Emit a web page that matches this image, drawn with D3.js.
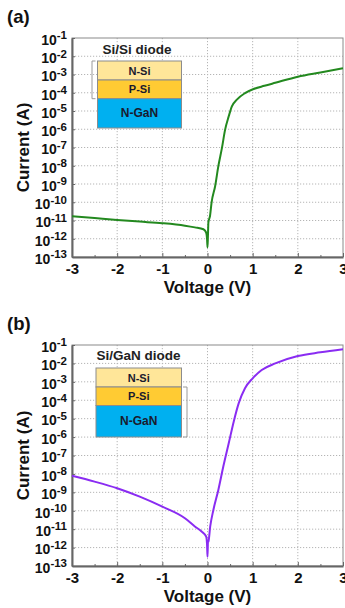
<!DOCTYPE html>
<html>
<head>
<meta charset="utf-8">
<script src="https://cdn.jsdelivr.net/npm/d3@7"></script>
<style>
  body { margin: 0; background: #fff; }
  svg { display: block; font-family: "Liberation Sans", Arial, sans-serif; font-weight: bold; }
</style>
</head>
<body>
<svg width="345" height="608"></svg>
<script>
// DATA
// (a) Si/Si diode
const voltageA = [-3, -2.5, -2, -1.5, -1, -0.5, -0.28, -0.09, -0.03, -0.01, 0, 0.01, 0.02, 0.056, 0.09,
  0.17, 0.24, 0.32, 0.39, 0.47, 0.54, 0.65, 0.83, 1.02, 1.26, 1.5, 2, 2.5, 3];
const currentA = [1.7e-11, 1.35e-11, 1.07e-11, 8.7e-12, 7.1e-12, 5.2e-12, 4.2e-12, 3.3e-12, 2.2e-12, 1e-12,
  3.4e-13, 1.5e-12, 7.8e-12, 1.8e-11, 9.5e-11, 7.8e-10, 9.5e-9, 9.5e-8, 9.5e-7, 5.1e-6, 1.8e-5, 4.2e-5,
  9.5e-5, 1.6e-4, 2.4e-4, 3.5e-4, 7.6e-4, 1.3e-3, 2.2e-3];

// (b) Si/GaN diode
const voltageB = [-3, -2.5, -2, -1.5, -1, -0.5, -0.28, -0.13, -0.03, -0.01, 0, 0.01, 0.02, 0.06, 0.13,
  0.24, 0.35, 0.47, 0.58, 0.69, 0.83, 1.0, 1.2, 1.5, 2, 2.5, 3];
const currentB = [7.9e-9, 3.8e-9, 1.66e-9, 5.8e-10, 1.66e-10, 3.9e-11, 1.4e-11, 7.4e-12, 4e-12, 1.5e-12,
  3.2e-13, 2e-12, 2.1e-12, 1.4e-11, 1.1e-10, 1.35e-9, 2.5e-8, 4.6e-7, 6.9e-6, 6.8e-5, 4.5e-4, 1.55e-3,
  4.4e-3, 1e-2, 2.5e-2, 4e-2, 5.9e-2];

// axes
const xTicks = [-3, -2, -1, 0, 1, 2, 3];
const xMinorTicks = [-2.5, -1.5, -0.5, 0.5, 1.5, 2.5];
const yTicks = [1e-13, 1e-12, 1e-11, 1e-10, 1e-9, 1e-8, 1e-7, 1e-6, 1e-5, 1e-4, 1e-3, 1e-2, 1e-1];

// inset layers (top to bottom)
const layerNames = ["N-Si", "P-Si", "N-GaN"];
const layerColors = ["#ffe699", "#ffcb33", "#00b0f0"];

// SETUP
const svg = d3.select("svg");
const left = 72, right = 343;

const x = d3.scaleLinear().domain([-3, 3]).range([left, right]);

function drawPanel(p) {
  const y = d3.scaleLog().domain([1e-13, 1e-1]).range([p.bottom, p.top]);
  const g = svg.append("g");

  // panel letter
  g.append("text")
    .attr("x", 7).attr("y", p.letterY)
    .attr("font-size", 18.5)
    .attr("fill", "#111")
    .text(p.letter);

  // grid
  g.append("g")
    .selectAll("line")
    .data(yTicks.slice(1, -1))
    .enter()
    .append("line")
    .attr("x1", left).attr("x2", right)
    .attr("y1", (d) => y(d)).attr("y2", (d) => y(d))
    .attr("stroke", "#b5b5b5")
    .attr("stroke-dasharray", "1.2,1.8");

  g.append("g")
    .selectAll("line")
    .data(xTicks.slice(1, -1))
    .enter()
    .append("line")
    .attr("x1", (d) => x(d)).attr("x2", (d) => x(d))
    .attr("y1", p.top).attr("y2", p.bottom)
    .attr("stroke", "#b5b5b5")
    .attr("stroke-dasharray", "1.2,1.8");

  // frame
  g.append("rect")
    .attr("x", left).attr("y", p.top)
    .attr("width", right - left).attr("height", p.bottom - p.top)
    .attr("fill", "none")
    .attr("stroke", "#8a8a8a");

  // x axis
  const xAxis = d3.axisBottom(x).tickValues(xTicks).tickSizeInner(-4).tickSizeOuter(0).tickPadding(6)
    .tickFormat(d3.format("d"));
  const gx = g.append("g")
    .attr("transform", `translate(0,${p.bottom})`)
    .style("color", "#666")
    .call(xAxis);
  gx.select(".domain").attr("stroke-width", 2);
  gx.selectAll(".tick text")
    .attr("fill", "#111")
    .attr("font-size", 15)
    .attr("font-family", "Liberation Sans, Arial, sans-serif")
    .attr("font-weight", "bold")
    .text((d) => (d < 0 ? "-" + Math.abs(d) : d));

  g.append("g")
    .attr("transform", `translate(0,${p.bottom})`)
    .style("color", "#666")
    .call(d3.axisBottom(x).tickValues(xMinorTicks).tickSizeInner(-2).tickSizeOuter(0).tickFormat(""))
    .select(".domain").remove();

  // y axis
  const yAxis = d3.axisLeft(y).tickValues(yTicks).tickSizeInner(-3).tickSizeOuter(0).tickPadding(5).tickFormat("");
  const gy = g.append("g")
    .attr("transform", `translate(${left},0)`)
    .style("color", "#666")
    .call(yAxis);
  gy.select(".domain").attr("stroke-width", 2);
  gy.selectAll(".tick text")
    .attr("fill", "#111")
    .attr("font-size", 14)
    .attr("font-family", "Liberation Sans, Arial, sans-serif")
    .attr("font-weight", "bold")
    .attr("dy", "0.45em")
    .each(function (d) {
      const t = d3.select(this);
      t.append("tspan").text("10");
      t.append("tspan").attr("dy", -5.5).attr("font-size", 11.5).text(Math.round(Math.log10(d)));
    });

  // axis titles
  g.append("text")
    .attr("x", (left + right) / 2).attr("y", p.bottom + 36)
    .attr("text-anchor", "middle")
    .attr("font-size", 17)
    .attr("fill", "#111")
    .text("Voltage (V)");

  g.append("text")
    .attr("transform", `translate(29,${(p.top + p.bottom) / 2}) rotate(-90)`)
    .attr("text-anchor", "middle")
    .attr("font-size", 17)
    .attr("fill", "#111")
    .text("Current (A)");

  // curve
  const points = p.volts.map((v, i) => [v, p.current[i]]);
  const line = d3.line()
    .x((d) => x(d[0]))
    .y((d) => y(d[1]))
    .curve(d3.curveMonotoneX);

  g.append("path")
    .datum(points)
    .attr("fill", "none")
    .attr("stroke", p.color)
    .attr("stroke-width", 2)
    .attr("d", line);

  // inset: layer stack
  const ins = p.inset;
  g.append("text")
    .attr("x", ins.titleX).attr("y", ins.titleY)
    .attr("text-anchor", "middle")
    .attr("font-size", 13.5)
    .attr("fill", "#222")
    .text(ins.title);

  let yy = ins.y;
  ins.heights.forEach((h, i) => {
    g.append("rect")
      .attr("x", ins.x).attr("y", yy)
      .attr("width", ins.w).attr("height", h)
      .attr("fill", layerColors[i])
      .attr("stroke", "#8c8c8c")
      .attr("stroke-width", 1);
    g.append("text")
      .attr("x", ins.x + ins.w / 2).attr("y", yy + h / 2 + 4)
      .attr("text-anchor", "middle")
      .attr("font-size", i == 2 ? 12 : 11)
      .attr("fill", "#1a1a2e")
      .text(layerNames[i]);
    yy += h;
  });

  // bracket marking the junction
  const b = ins.bracket;
  g.append("path")
    .attr("d", `M${b.x + b.dx},${b.y1} H${b.x} V${b.y2} H${b.x + b.dx}`)
    .attr("fill", "none")
    .attr("stroke", "#9a9a9a")
    .attr("stroke-width", 1);
}

drawPanel({
  letter: "(a)", letterY: 23, top: 38, bottom: 257,
  volts: voltageA, current: currentA, color: "#23891f",
  inset: {
    title: "Si/Si diode", titleX: 137, titleY: 54,
    x: 97.5, y: 61, w: 84, heights: [19, 18.7, 29.3],
    bracket: { x: 92, dx: 3.5, y1: 61, y2: 98.7 },
  },
});

drawPanel({
  letter: "(b)", letterY: 330, top: 345, bottom: 566,
  volts: voltageB, current: currentB, color: "#8a2cf2",
  inset: {
    title: "Si/GaN diode", titleX: 138.5, titleY: 360,
    x: 96, y: 368, w: 85.5, heights: [19, 18.5, 31.5],
    bracket: { x: 187, dx: -4, y1: 387, y2: 437 },
  },
});
</script>
</body>
</html>
